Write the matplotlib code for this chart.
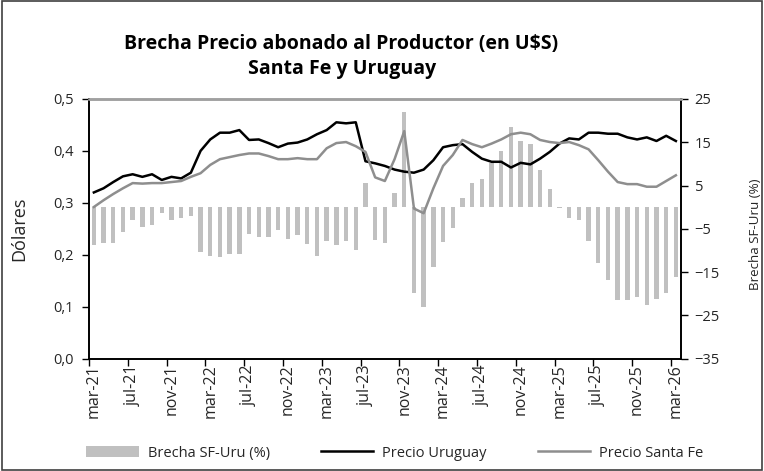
import matplotlib.pyplot as plt
import numpy as np
from matplotlib.patches import Rectangle

plt.rcParams['font.family'] = ['Open Sans', 'DejaVu Sans']

# mar-21 .. mar-26, monthly
tick_labels = ['mar-21', 'jul-21', 'nov-21', 'mar-22', 'jul-22', 'nov-22',
               'mar-23', 'jul-23', 'nov-23', 'mar-24', 'jul-24', 'nov-24',
               'mar-25', 'jul-25', 'nov-25', 'mar-26']

precio_uruguay = [0.320, 0.328, 0.340, 0.351, 0.355, 0.350, 0.355, 0.344, 0.350, 0.347, 0.358,
                  0.400, 0.422, 0.435, 0.435, 0.440, 0.421, 0.422, 0.415, 0.407, 0.414, 0.416,
                  0.422, 0.432, 0.440, 0.455, 0.453, 0.455,
                  0.380, 0.376, 0.371, 0.364, 0.360, 0.358, 0.364, 0.382, 0.407, 0.411, 0.413, 0.398,
                  0.385, 0.379, 0.379, 0.368, 0.377, 0.374, 0.385, 0.398, 0.414, 0.424, 0.422,
                  0.435, 0.435, 0.433, 0.433, 0.426, 0.422, 0.426, 0.419, 0.429, 0.419]

precio_santa_fe = [0.292, 0.305, 0.317, 0.328, 0.338, 0.337, 0.338, 0.338, 0.340, 0.342, 0.350,
                   0.357, 0.373, 0.384, 0.388, 0.392, 0.395, 0.395, 0.390, 0.384, 0.384, 0.386,
                   0.384, 0.384, 0.405, 0.415, 0.417, 0.409,
                   0.398, 0.349, 0.342, 0.384, 0.438, 0.289, 0.280, 0.328, 0.371, 0.392, 0.421, 0.413,
                   0.407, 0.414, 0.422, 0.432, 0.435, 0.432, 0.421, 0.417, 0.415, 0.417, 0.411,
                   0.403, 0.382, 0.360, 0.340, 0.336, 0.336, 0.331, 0.331, 0.342, 0.353]

brecha = [-8.8, -8.2, -8.2, -5.8, -3.0, -4.6, -4.2, -1.3, -3.0, -2.6, -2.1,
          -10.3, -11.2, -11.5, -10.9, -10.9, -6.2, -7.0, -6.8, -5.3, -7.3, -6.5,
          -8.5, -11.2, -7.7, -8.8, -7.7, -9.9,
          5.5, -7.6, -8.2, 3.2, 21.9, -19.9, -23.1, -13.9, -8.0, -4.8, 2.2, 5.5,
          6.4, 10.1, 12.9, 18.4, 15.2, 14.7, 8.5, 4.3, -0.2, -2.4, -3.0,
          -7.7, -13.0, -16.8, -21.5, -21.5, -20.7, -22.7, -21.2, -19.9, -16.2]

x = np.arange(len(brecha))
text_col = '#262626'

fig = plt.figure(figsize=(7.64, 4.71), dpi=100)
ax = fig.add_axes([0.1165, 0.2384, 0.7745, 0.5516])
ax2 = ax.twinx()

# bars on secondary axis, lines drawn above them
ax2.bar(x, brecha, width=0.45, color='#C0C0C0', label='Brecha SF-Uru (%)')
ax.plot(x, precio_uruguay, color='black', lw=1.8, label='Precio Uruguay')
ax.plot(x, precio_santa_fe, color='#8E8E8E', lw=1.8, label='Precio Santa Fe')
ax.set_zorder(ax2.get_zorder() + 1)
ax.patch.set_visible(False)

ax.set_xlim(-0.5, len(x) - 0.5)
ax.set_ylim(0, 0.5)
ax2.set_ylim(-35, 25)

ax.set_yticks(np.arange(0, 0.51, 0.1))
ax.set_yticklabels([f'{v:.1f}'.replace('.', ',') for v in np.arange(0, 0.51, 0.1)])
ax2.set_yticks(np.arange(-35, 26, 10))

# tick marks between categories, labels centred on the category
ax.set_xticks(np.arange(-0.5, len(x), 4))
ax.set_xticklabels([])
ax.set_xticks(np.arange(0, len(x), 4), minor=True)
ax.set_xticklabels(tick_labels, minor=True, rotation=90, fontsize=11.5)
ax.tick_params(axis='x', which='minor', length=0, pad=4, colors=text_col)
ax.tick_params(axis='x', which='major', length=5, width=1, color='black')
ax.tick_params(axis='y', labelsize=10.5, length=5, width=1, pad=6, labelcolor=text_col)
ax2.tick_params(axis='y', labelsize=10.5, length=5, width=1, pad=5, labelcolor=text_col)

for a in (ax, ax2):
    a.spines['top'].set_color('#A0A0A0')
    a.spines['top'].set_linewidth(1.8)
    for s in ('left', 'right', 'bottom'):
        a.spines[s].set_linewidth(1.2)

ax.set_ylabel('Dólares', fontsize=13, color=text_col)
ax.yaxis.set_label_coords(-0.103, 0.5)
ax2.set_ylabel('Brecha SF-Uru (%)', fontsize=9.6, color=text_col)
ax2.yaxis.set_label_coords(1.115, 0.48)

fig.text(0.446, 0.906, 'Brecha Precio abonado al Productor (en U$S)', ha='center', va='center',
         fontsize=14, fontweight='bold')
fig.text(0.448, 0.854, 'Santa Fe y Uruguay', ha='center', va='center',
         fontsize=14, fontweight='bold')

h2, l2 = ax2.get_legend_handles_labels()
h1, l1 = ax.get_legend_handles_labels()
leg = fig.legend(h2 + h1, l2 + l1, loc='center left', bbox_to_anchor=(0.113, 0.038), ncol=3,
                 frameon=False, fontsize=10.5, handlelength=3.6, handletextpad=0.6,
                 columnspacing=3.5, borderpad=0, borderaxespad=0)
for t in leg.get_texts():
    t.set_color(text_col)

fig.add_artist(Rectangle((0.002, 0.003), 0.995, 0.994, transform=fig.transFigure,
                         fill=False, edgecolor='#404040', lw=1.2))

fig.savefig('out.png', dpi=100)
